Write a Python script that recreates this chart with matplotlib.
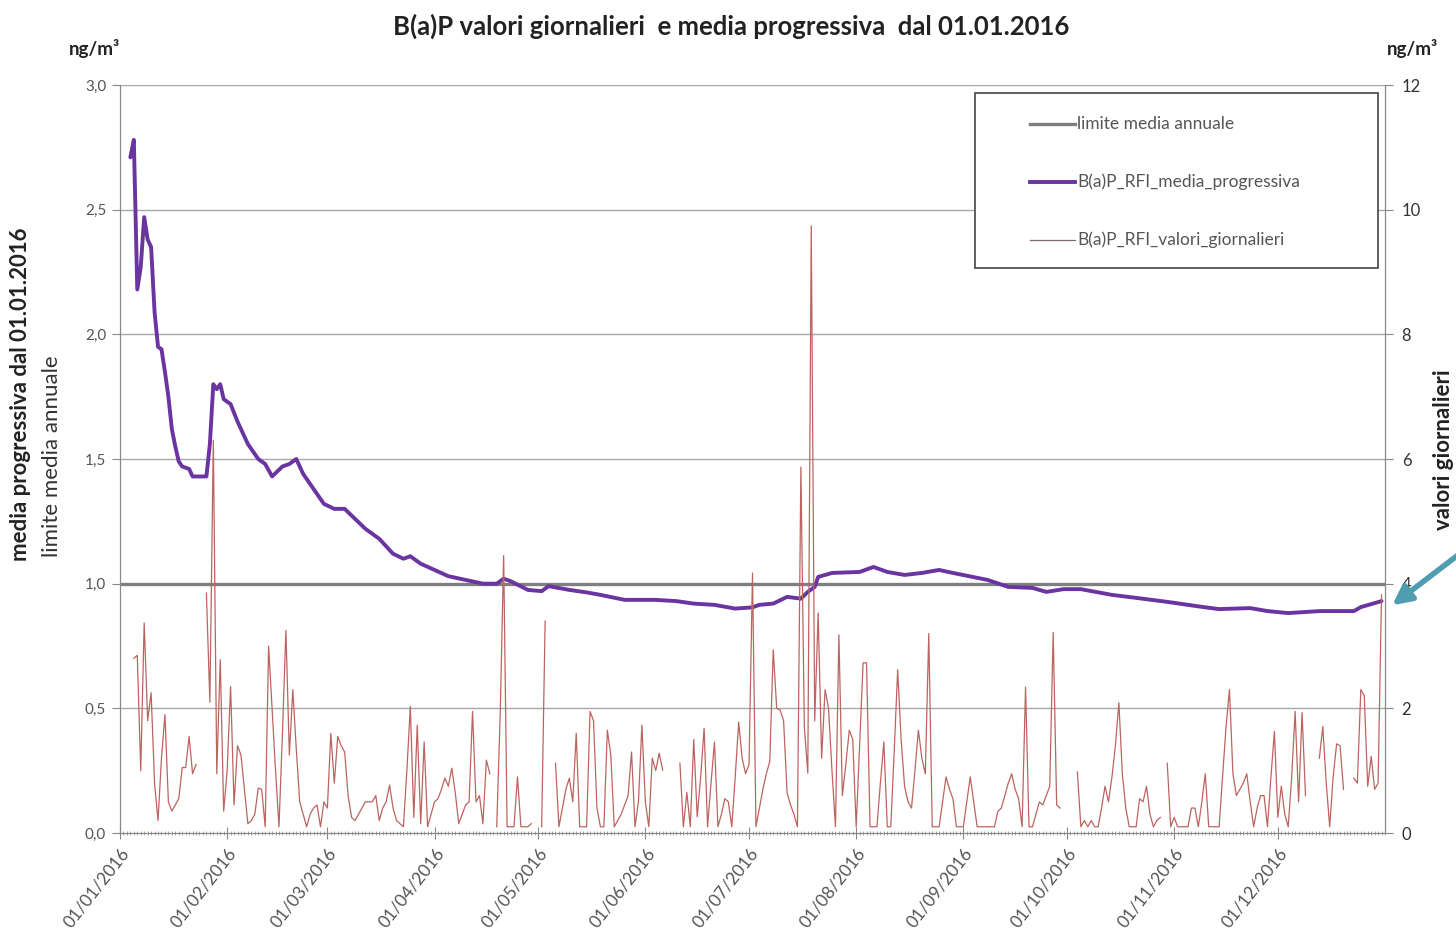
import numpy as np
import matplotlib
matplotlib.use("Agg")
import matplotlib.pyplot as plt
from matplotlib.lines import Line2D
from matplotlib.patches import Rectangle, FancyArrowPatch

plt.rcParams['font.family'] = ['Lato', 'DejaVu Sans']

nan = np.nan

# ---------------- DATA ----------------
month_labels = ["01/01/2016", "01/02/2016", "01/03/2016", "01/04/2016", "01/05/2016",
                "01/06/2016", "01/07/2016", "01/08/2016", "01/09/2016", "01/10/2016",
                "01/11/2016", "01/12/2016"]
month_start_day = [0, 31, 60, 91, 121, 152, 182, 213, 244, 274, 305, 335]
n_days = 366

# daily values (ng/m3, right axis), one list per month
jan = [nan, nan, nan, nan, 2.8, 2.85, 1.0, 3.37, 1.8, 2.25, 0.8, 0.2, 1.2, 1.9, 0.5, 0.35,
       0.45, 0.55, 1.05, 1.05, 1.55, 0.95, 1.1, nan, nan, 3.85, 2.1, 6.3, 0.95, 2.78, 0.35]
feb = [1.0, 2.35, 0.45, 1.4, 1.25, 0.7, 0.15, 0.2, 0.3, 0.72, 0.7, 0.1, 3.0, 2.0, 1.0,
       0.1, 1.6, 3.25, 1.25, 2.3, 1.35, 0.5, 0.3, 0.1, 0.3, 0.4, 0.45, 0.1, 0.5]
mar = [0.4, 1.6, 0.8, 1.55, 1.4, 1.3, 0.6, 0.25, 0.2, 0.3, 0.4, 0.5, 0.5, 0.5, 0.6, 0.2,
       0.4, 0.5, 0.77, 0.4, 0.2, 0.15, 0.1, 1.0, 2.03, 0.25, 1.73, 0.15, 1.46, 0.1, 0.3]
apr = [0.5, 0.55, 0.7, 0.88, 0.75, 1.04, 0.65, 0.15, 0.3, 0.45, 0.5, 1.95, 0.5, 0.6, 0.15,
       1.17, 0.95, nan, 0.1, 1.9, 4.45, 0.1, 0.1, 0.1, 0.9, 0.1, 0.1, 0.1, 0.15, nan]
may = [nan, 0.1, 3.4, nan, nan, 1.12, 0.1, 0.4, 0.7, 0.88, 0.5, 1.6, 0.1, 0.1, 0.1, 1.95,
       1.8, 0.4, 0.1, 0.1, 1.65, 1.25, 0.1, 0.2, 0.3, 0.45, 0.6, 1.3, 0.1, 0.5, 1.73]
jun = [0.5, 0.1, 1.2, 1.0, 1.28, 1.01, nan, nan, nan, nan, 1.12, 0.1, 0.65, 0.1, 1.5,
       0.26, 0.9, 1.68, 0.1, 0.8, 1.46, 0.1, 0.3, 0.55, 0.5, 0.1, 0.9, 1.78, 1.2, 0.95]
jul = [1.1, 4.17, 0.1, 0.4, 0.7, 0.95, 1.15, 2.94, 2.0, 1.97, 1.8, 0.65, 0.45, 0.3, 0.1,
       5.87, 1.7, 0.96, 9.74, 1.8, 3.53, 1.2, 2.3, 2.0, 1.0, 0.1, 3.18, 0.6, 1.1, 1.65, 1.5]
aug = [0.1, 1.4, 2.73, 2.73, 0.1, 0.1, 0.1, 0.8, 1.46, 0.1, 0.1, 1.3, 2.62, 1.5, 0.75,
       0.5, 0.4, 1.0, 1.65, 1.2, 0.95, 3.2, 0.1, 0.1, 0.1, 0.5, 0.9, 0.7, 0.55, 0.1, 0.1]
sep = [0.1, 0.5, 0.9, 0.5, 0.1, 0.1, 0.1, 0.1, 0.1, 0.1, 0.35, 0.4, 0.6, 0.8, 0.95, 0.7,
       0.55, 0.1, 2.34, 0.1, 0.1, 0.3, 0.5, 0.45, 0.6, 0.75, 3.22, 0.45, 0.4, nan]
octo = [nan, nan, nan, 0.98, 0.1, 0.2, 0.1, 0.2, 0.1, 0.1, 0.4, 0.75, 0.5, 0.9, 1.4, 2.09,
        0.95, 0.4, 0.1, 0.1, 0.1, 0.55, 0.5, 0.75, 0.3, 0.1, 0.2, 0.25, nan, 1.12, 0.1]
nov = [0.25, 0.1, 0.1, 0.1, 0.1, 0.4, 0.4, 0.1, 0.5, 0.95, 0.1, 0.1, 0.1, 0.1, 0.9, 1.7,
       2.3, 0.95, 0.6, 0.7, 0.8, 0.95, 0.5, 0.1, 0.4, 0.6, 0.6, 0.1, 0.9, 1.63]
dec = [0.25, 0.75, 0.3, 0.1, 0.9, 1.95, 0.5, 1.93, 0.6, nan, nan, nan, 1.2, 1.71, 0.8,
       0.1, 0.9, 1.43, 1.4, 0.7, nan, nan, 0.88, 0.8, 2.3, 2.2, 0.75, 1.23, 0.7, 0.8, 3.82]

# progressive mean (ng/m3, left axis), read at selected days
mean_days = [3, 4, 5, 6, 7, 8, 9, 10, 11, 12, 13, 14, 15, 16, 17, 18, 20, 21, 25, 26, 27,
             28, 29, 30, 32, 34, 37, 40, 42, 44, 47, 49, 51, 53, 56, 59, 62, 65, 68, 71,
             75, 79, 82, 84, 87, 91, 95, 100, 105, 109, 111, 113, 118, 122, 124, 130, 135,
             139, 146, 155, 161, 166, 172, 178, 183, 185, 189, 193, 197, 199, 201, 202,
             206, 214, 218, 222, 227, 232, 237, 241, 251, 257, 264, 268, 273, 278, 287,
             294, 303, 313, 318, 327, 332, 338, 347, 357, 359, 365]
mean_vals = [2.71, 2.78, 2.18, 2.27, 2.47, 2.38, 2.35, 2.09, 1.95, 1.94, 1.85, 1.75, 1.62,
             1.55, 1.49, 1.47, 1.46, 1.43, 1.43, 1.56, 1.8, 1.78, 1.8, 1.74, 1.72, 1.65,
             1.56, 1.5, 1.48, 1.43, 1.47, 1.48, 1.5, 1.44, 1.38, 1.32, 1.3, 1.3, 1.26, 1.22,
             1.18, 1.12, 1.1, 1.11, 1.08, 1.055, 1.03, 1.015, 1.0, 1.0, 1.02, 1.01, 0.975,
             0.97, 0.99, 0.975, 0.965, 0.955, 0.935, 0.935, 0.93, 0.92, 0.915, 0.9, 0.905,
             0.915, 0.92, 0.947, 0.94, 0.967, 0.987, 1.027, 1.043, 1.047, 1.067, 1.047,
             1.035, 1.043, 1.055, 1.043, 1.015, 0.987, 0.983, 0.967, 0.978, 0.978, 0.955,
             0.943, 0.927, 0.907, 0.898, 0.902, 0.89, 0.882, 0.89, 0.89, 0.906, 0.93]

limit_value = 1.0

series_labels = ["limite media annuale", "B(a)P_RFI_media_progressiva",
                 "B(a)P_RFI_valori_giornalieri"]

daily = np.array(jan + feb + mar + apr + may + jun + jul + aug + sep + octo + nov + dec, dtype=float)
days = np.arange(len(daily))

# ---------------- FIGURE ----------------
W, H = 1456, 932
def fx(px):
    return px / W
def fy(py):
    return 1 - py / H

fig = plt.figure(figsize=(W / 100, H / 100), dpi=100)
L, R, B, T = 120, 1385, 833, 85
ax = fig.add_axes([L / W, 1 - B / H, (R - L) / W, (B - T) / H])
ax2 = ax.twinx()

c_limit = '#7f7f7f'
c_mean = '#6a35a0'
c_daily = '#bb6460'
tick_col = '#555555'

ax.plot([0, n_days], [limit_value, limit_value], color=c_limit, lw=2.4, zorder=3)
ax.plot(mean_days, mean_vals, color=c_mean, lw=2.8, zorder=4, solid_capstyle='round')
ax2.plot(days, daily, color=c_daily, lw=0.9, zorder=5)

ax.set_xlim(0, n_days)
ax.set_ylim(0, 3.0)
ax2.set_ylim(0, 12)

yt = np.arange(0, 3.01, 0.5)
ax.set_yticks(yt)
ax.set_yticklabels([f"{v:.1f}".replace('.', ',') for v in yt])
ax2.set_yticks(np.arange(0, 12.1, 2))
ax2.set_yticklabels([str(int(v)) for v in np.arange(0, 12.1, 2)])

for v in yt[1:]:
    ax.axhline(v, color='#a8a8a8', lw=1.0, zorder=1)

ax.set_xticks(month_start_day)
ax.set_xticklabels(month_labels, rotation=52, ha='right', rotation_mode='anchor',
                   fontsize=12.5, color=tick_col)
ax.set_xticks(np.arange(0, n_days + 1), minor=True)
ax.tick_params(axis='x', which='major', length=8, direction='inout', color='#888888', pad=5)
ax.tick_params(axis='x', which='minor', length=3, direction='inout', color='#999999', width=0.6)
ax.tick_params(axis='y', length=6, color='#888888', labelsize=11, labelcolor=tick_col, pad=4)
ax2.tick_params(axis='y', length=6, color='#888888', labelsize=12, labelcolor='#333333', pad=6)

for a in (ax, ax2):
    a.spines['top'].set_visible(False)
    for s in ['left', 'right', 'bottom']:
        a.spines[s].set_color('#888888')

# legend (drawn by hand to match the reference box)
leg_box = Rectangle((fx(975), fy(268)), fx(1378) - fx(975), fy(93) - fy(268),
                    transform=fig.transFigure, facecolor='white', edgecolor='#444444',
                    lw=1.2, zorder=20)
fig.patches.append(leg_box)
leg_styles = [(c_limit, 2.4), (c_mean, 2.8), ('#7a6a6a', 0.9)]
for (col, lw), lab, py in zip(leg_styles, series_labels, [124, 182, 240]):
    fig.lines.append(Line2D([fx(1030), fx(1075)], [fy(py), fy(py)], color=col, lw=lw,
                            transform=fig.transFigure, zorder=21))
    fig.text(fx(1077), fy(py), lab, ha='left', va='center', fontsize=12.5,
             color='#555555', zorder=22)

# texts
fig.text(fx(731), fy(26), "B(a)P valori giornalieri  e media progressiva  dal 01.01.2016",
         ha='center', va='center', fontsize=18.5, fontweight='bold', color='#222222')
fig.text(fx(95), fy(48), "ng/m³", ha='center', va='center', fontsize=13.5,
         fontweight='bold', color='#222222')
fig.text(fx(1412), fy(48), "ng/m³", ha='center', va='center', fontsize=13.5,
         fontweight='bold', color='#222222')
fig.text(fx(21), fy(561), "media progressiva dal 01.01.2016", rotation=90,
         ha='center', va='bottom', fontsize=16, fontweight='bold', color='#222222')
fig.text(fx(52), fy(557), "limite media annuale", rotation=90,
         ha='center', va='bottom', fontsize=16, color='#333333')
fig.text(fx(1443), fy(450), "valori giornalieri", rotation=90,
         ha='center', va='center', fontsize=16, fontweight='bold', color='#222222')

# arrow pointing at last value
fig.patches.append(FancyArrowPatch(
    (fx(1462), fy(552)), (fx(1390), fy(607)), transform=fig.transFigure, arrowstyle='-|>',
    mutation_scale=28, lw=4, color='#4f9db0', zorder=30))

fig.savefig("out.png", dpi=100)
